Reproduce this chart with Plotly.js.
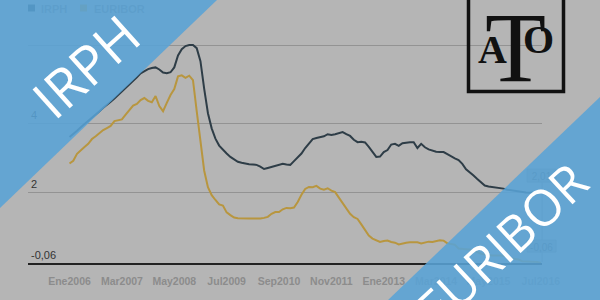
<!DOCTYPE html>
<html><head><meta charset="utf-8">
<script src="https://cdn.plot.ly/plotly-3.0.1.min.js"></script>
<style>html,body{margin:0;padding:0;background:#b5b5b5;}#chart{width:600px;height:300px;}</style>
</head><body><div id="chart"></div>
<script>
// ---- data (monthly, Jan 2006 .. Jul 2016) ----
const tickLabels = ['Ene2006','Mar2007','May2008','Jul2009','Sep2010','Nov2011','Ene2013','Mar2014','May2015','Jul2016'];
const tickMonths = [0,14,28,42,56,70,84,98,112,126];
const irph = [
  3.60,3.68,3.78,3.88,3.97,4.06,4.16,4.26,4.35,4.45,4.53,4.62,
  4.72,4.82,4.92,5.02,5.12,5.22,5.33,5.45,5.52,5.57,5.60,5.62,
  5.56,5.47,5.45,5.48,5.62,5.97,6.15,6.24,6.27,6.27,6.18,5.80,
  5.00,4.29,3.85,3.55,3.35,3.22,3.12,3.02,2.94,2.88,2.85,2.82,
  2.81,2.80,2.79,2.74,2.67,2.70,2.73,2.76,2.79,2.82,2.80,2.79,
  2.90,3.00,3.12,3.28,3.40,3.54,3.57,3.60,3.62,3.68,3.66,3.68,
  3.72,3.74,3.68,3.63,3.52,3.45,3.46,3.44,3.31,3.18,3.02,3.03,
  3.16,3.22,3.38,3.40,3.34,3.42,3.44,3.45,3.45,3.28,3.40,3.30,
  3.24,3.20,3.17,3.16,3.16,3.10,3.03,2.98,2.93,2.82,2.66,2.58,
  2.48,2.38,2.27,2.19,2.16,2.15,2.14,2.12,2.10,2.07,2.05,2.03,
  2.02,2.00,1.99,1.98,1.99,2.00,2.01
];
const euribor = [
  2.83,2.91,3.11,3.22,3.31,3.40,3.54,3.62,3.72,3.80,3.86,3.92,
  4.06,4.09,4.11,4.25,4.37,4.51,4.56,4.67,4.73,4.65,4.61,4.79,
  4.50,4.35,4.59,4.82,4.99,5.36,5.39,5.32,5.38,5.25,4.35,3.45,
  2.62,2.14,1.91,1.77,1.64,1.61,1.41,1.33,1.26,1.24,1.23,1.24,
  1.23,1.23,1.22,1.23,1.25,1.28,1.37,1.42,1.42,1.50,1.54,1.53,
  1.55,1.71,1.92,2.09,2.15,2.14,2.18,2.10,2.07,2.11,2.04,2.00,
  1.84,1.68,1.50,1.37,1.27,1.22,1.06,0.88,0.74,0.65,0.59,0.55,
  0.58,0.59,0.55,0.53,0.48,0.51,0.53,0.54,0.54,0.54,0.51,0.54,
  0.56,0.55,0.58,0.60,0.59,0.51,0.49,0.47,0.36,0.34,0.34,0.33,
  0.30,0.26,0.21,0.18,0.17,0.16,0.17,0.16,0.15,0.13,0.08,0.06,
  0.04,-0.01,-0.01,-0.01,-0.01,-0.03,-0.06
];
const yTickVals = [-0.06, 2, 4, 6.27];
const yTickText = ['-0,06','2','4','6,27'];
const seriesNames = ['IRPH','EURIBOR'];
const lastLabels = ['2,01','-0,06'];
const bannerWords = ['IRPH','EURIBOR'];

// ---- layout helpers ----
const L = 28, T = 44, W = 514, H = 219;
const px = X => (X - L) / W;
const py = Y => (T + H - Y) / H;
const idx = irph.map((_, i) => i);

const colIrph = '#2e3d47', colEur = '#b8963f';
const traces = [
  {x: idx, y: irph, type: 'scatter', mode: 'lines', name: seriesNames[0],
   line: {color: colIrph, width: 2}, hoverinfo: 'skip', showlegend: false},
  {x: idx, y: euribor, type: 'scatter', mode: 'lines', name: seriesNames[1],
   line: {color: colEur, width: 2}, hoverinfo: 'skip', showlegend: false}
];

function path(pts){ return 'M' + pts.map(p => px(p[0]) + ',' + py(p[1])).join(' L') + ' Z'; }
const blue = 'rgb(89,163,214)';

const shapes = [
  // legend (under banner)
  {type:'rect', xref:'paper', yref:'paper', x0:px(28), x1:px(35), y0:py(11.5), y1:py(4.5), fillcolor:colIrph, line:{width:0}},
  {type:'rect', xref:'paper', yref:'paper', x0:px(38), x1:px(75), y0:py(14), y1:py(2), fillcolor:'rgba(0,0,0,0)', line:{width:0},
   label:{text:seriesNames[0], textposition:'middle left', padding:0, font:{family:'Liberation Sans', size:11, color:'#7d7d7d', weight:'bold'}}},
  {type:'rect', xref:'paper', yref:'paper', x0:px(80), x1:px(87), y0:py(11.5), y1:py(4.5), fillcolor:colEur, line:{width:0}},
  {type:'rect', xref:'paper', yref:'paper', x0:px(91), x1:px(150), y0:py(14), y1:py(2), fillcolor:'rgba(0,0,0,0)', line:{width:0},
   label:{text:seriesNames[1], textposition:'middle left', padding:0, font:{family:'Liberation Sans', size:11, color:'#7d7d7d', weight:'bold'}}},
  // end-value tooltips (under banner)
  {type:'line', xref:'paper', yref:'paper', x0:px(542), x1:px(542), y0:py(181), y1:py(262), line:{color:'#8a8a8a', width:1}},
  {type:'rect', xref:'paper', yref:'paper', x0:px(527), x1:px(556), y0:py(182), y1:py(169), fillcolor:'#9a9a9a', line:{color:'#8a8a8a', width:1},
   label:{text:lastLabels[0], font:{family:'Liberation Sans', size:10, color:'#5a5a5a'}}},
  {type:'rect', xref:'paper', yref:'paper', x0:px(527), x1:px(556), y0:py(252), y1:py(240), fillcolor:'#9a9a9a', line:{color:'#8a8a8a', width:1},
   label:{text:lastLabels[1], font:{family:'Liberation Sans', size:10, color:'#5a5a5a'}}},
  // banners
  {type:'path', xref:'paper', yref:'paper', path:path([[-10,-10],[227.4,-10],[-10,217.6]]), fillcolor:blue, opacity:0.88, line:{width:0}},
  {type:'path', xref:'paper', yref:'paper', path:path([[610,87.4],[610,310],[377.6,310]]), fillcolor:blue, opacity:0.88, line:{width:0}},
  // logo frame
  {type:'rect', xref:'paper', yref:'paper', x0:px(468.5), x1:px(563.5), y0:py(91.5), y1:py(-10), fillcolor:'rgba(0,0,0,0)', line:{color:'#111', width:3.5}}
];

const annotations = [
  {xref:'paper', yref:'paper', x:px(85), y:py(66), text:bannerWords[0], showarrow:false, textangle:-42,
   xanchor:'center', yanchor:'middle', font:{family:'Open Sans', size:54, color:'#ffffff'}},
  {xref:'paper', yref:'paper', x:px(501), y:py(245), text:bannerWords[1], showarrow:false, textangle:-43,
   xanchor:'center', yanchor:'middle', font:{family:'Open Sans', size:50, color:'#ffffff'}},
  {xref:'paper', yref:'paper', x:px(492), y:py(49), text:'A', showarrow:false, xanchor:'center', yanchor:'middle',
   font:{family:'Liberation Serif', size:40, color:'#111', weight:'bold'}},
  {xref:'paper', yref:'paper', x:px(515), y:py(47), text:'T', showarrow:false, xanchor:'center', yanchor:'middle',
   font:{family:'Liberation Serif', size:100, color:'#111'}},
  {xref:'paper', yref:'paper', x:px(538), y:py(39), text:'O', showarrow:false, xanchor:'center', yanchor:'middle',
   font:{family:'Liberation Serif', size:40, color:'#111', weight:'bold'}}
];

const layout = {
  width: 600, height: 300,
  margin: {l: L, r: 600 - L - W, t: T, b: 300 - T - H, pad: 0},
  paper_bgcolor: '#b5b5b5', plot_bgcolor: '#b5b5b5',
  showlegend: false,
  xaxis: {range: [-11.1, 126.3], tickmode: 'array', tickvals: tickMonths, ticktext: tickLabels,
    showgrid: false, zeroline: false, showline: true, linecolor: '#222', linewidth: 1.5,
    ticks: 'outside', ticklen: 8, tickcolor: 'rgba(0,0,0,0)',
    tickfont: {family: 'Liberation Sans', size: 10.5, color: '#8c8c8c', weight: 'bold'}},
  yaxis: {range: [-0.06, 6.30], tickmode: 'array', tickvals: yTickVals, ticktext: yTickText,
    ticklabelposition: 'inside top', ticks: '', showgrid: true, gridcolor: '#939393', gridwidth: 1,
    zeroline: false, showline: false,
    tickfont: {family: 'Liberation Sans', size: 11, color: '#333'}},
  shapes: shapes,
  annotations: annotations
};

Plotly.newPlot('chart', traces, layout, {staticPlot: true, displayModeBar: false});
</script></body></html>
